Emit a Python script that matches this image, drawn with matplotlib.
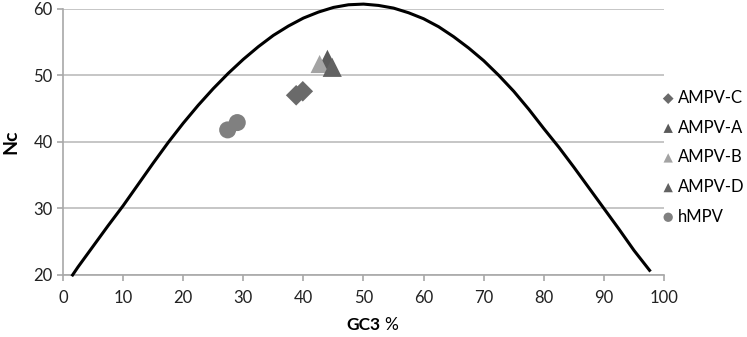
import matplotlib
matplotlib.use("Agg")
import matplotlib.pyplot as plt

plt.rcParams['font.family'] = ['Lato', 'DejaVu Sans']

# expected Nc curve
curve_gc3 = [1.6, 2.5, 5, 7.5, 10, 12.5, 15, 17.5, 20, 22.5, 25, 27.5, 30, 32.5, 35, 37.5, 40, 42.5,
             45, 47.5, 50, 52.5, 55, 57.5, 60, 62.5, 65, 67.5, 70, 72.5, 75, 77.5, 80, 82.5, 85, 87.5,
             90, 92.5, 95, 97.6]
curve_nc = [20.0, 21.2, 24.3, 27.4, 30.4, 33.6, 36.8, 39.9, 42.8, 45.5, 48.0, 50.3, 52.4, 54.3, 56.0,
            57.4, 58.6, 59.5, 60.2, 60.6, 60.7, 60.5, 60.1, 59.4, 58.5, 57.3, 55.8, 54.1, 52.2, 50.0,
            47.6, 44.9, 42.0, 39.2, 36.2, 33.1, 30.0, 26.9, 23.7, 20.7]

# virus groups
groups = ['AMPV-C', 'AMPV-A', 'AMPV-B', 'AMPV-D', 'hMPV']
gc3_vals = [[38.8, 39.9], [44.0], [42.7], [44.8], [27.4, 29.0]]
nc_vals = [[47.0, 47.6], [52.4], [51.7], [51.2], [41.8, 42.9]]
markers = ['D', '^', '^', '^', 'o']
colors = ['#6a6a6a', '#5a5a5a', '#a3a3a3', '#626262', '#808080']
sizes = [110, 190, 170, 190, 150]

fig = plt.figure(figsize=(7.47, 3.37), dpi=100)
ax = fig.add_axes([0.0843, 0.184, 0.8046, 0.790])

ax.plot(curve_gc3, curve_nc, color='black', lw=2.2, clip_on=False, zorder=3)

handles = []
for g, xs, ys, m, c, s in zip(groups, gc3_vals, nc_vals, markers, colors, sizes):
    ax.scatter(xs, ys, marker=m, s=s, color=c, edgecolors='none', zorder=4)
    h = ax.scatter([], [], marker=m, s=45 if m != 'D' else 30, color=c, edgecolors='none', label=g)
    handles.append(h)

ax.set_xlim(0, 100)
ax.set_ylim(20, 60)
ax.set_xticks(range(0, 101, 10))
ax.set_yticks(range(20, 61, 10))
ax.yaxis.grid(True, color='#bcbcbc', lw=1.2)
ax.set_axisbelow(True)
for side in ['top', 'right']:
    ax.spines[side].set_visible(False)
for side in ['left', 'bottom']:
    ax.spines[side].set_color('#a8a8a8')
    ax.spines[side].set_linewidth(1.2)
ax.tick_params(axis='both', colors='#a8a8a8', length=4, width=1.2, labelcolor='#222222', labelsize=12)
ax.tick_params(axis='x', pad=7)

ax.set_ylabel('Nc', fontsize=14, fontweight='bold', labelpad=10)
fig.text(0.510, 0.02, 'GC3', fontsize=12.5, fontweight='bold', ha='right', va='baseline')
fig.text(0.515, 0.02, '%', fontsize=12.5, ha='left', va='baseline')

ax.legend(handles=handles, loc='upper left', bbox_to_anchor=(0.982, 0.72), frameon=False,
          fontsize=12, handletextpad=0.1, labelspacing=0.82, borderaxespad=0, handlelength=1.0)

fig.savefig('out.png', dpi=100)
